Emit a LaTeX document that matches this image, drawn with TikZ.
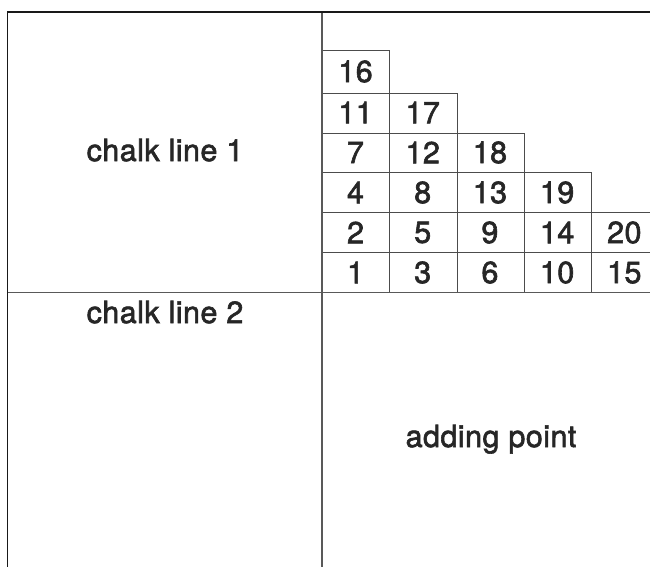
\documentclass[tikz,border=0pt]{standalone}
\usepackage{fontspec}
\newfontfamily\medfont{TeX Gyre Heros}[FakeBold=2,LetterSpace=1.5]
\begin{document}
\begin{tikzpicture}[x=1pt,y=-1pt,
  frame/.style={draw=black!90,line width=1.6pt},
  divider/.style={draw=black!65,line width=1.4pt},
  gridline/.style={draw=black!70,line width=1pt},
  label/.style={font=\fontsize{30.5}{36}\medfont,text=black!85,inner sep=0pt},
  num/.style={font=\fontsize{30.5}{36}\medfont,text=black!85,inner sep=0pt,anchor=center}]
\useasboundingbox (0,0) rectangle (650,566);
\clip (0,0) rectangle (650,566);
% corners / coordinates
\coordinate (tl) at (7.5,12);
\coordinate (tr) at (660,12);
\coordinate (bl) at (7.5,580);
\coordinate (dt) at (322,12);
\coordinate (db) at (322,580);
\coordinate (ml) at (7.5,292.5);
\coordinate (mr) at (660,292.5);
% grid staircase
\draw[gridline] (322,50) -- (389,50) -- (389,292.5);
\draw[gridline] (322,93) -- (457,93) -- (457,292.5);
\draw[gridline] (322,133) -- (524,133) -- (524,292.5);
\draw[gridline] (322,172.5) -- (591,172.5) -- (591,292.5);
\draw[gridline] (322,212) -- (660,212);
\draw[gridline] (322,252) -- (660,252);
% frame
\draw[divider] (dt) -- (db);
\draw[divider] (ml) -- (mr);
\draw[frame] (bl) -- (tl) -- (tr);
% numbers
\foreach \n/\c/\r in {16/0/0,
  11/0/1, 17/1/1,
  7/0/2, 12/1/2, 18/2/2,
  4/0/3, 8/1/3, 13/2/3, 19/3/3,
  2/0/4, 5/1/4, 9/2/4, 14/3/4, 20/4/4,
  1/0/5, 3/1/5, 6/2/5, 10/3/5, 15/4/5} {
  \pgfmathsetmacro{\xx}{355.5+67.2*\c}
  \pgfmathsetmacro{\yy}{\r==0 ? 71.5 : 93+40*(\r-1)+19.5}
  \node[num] (n\n) at (\xx,\yy) {\n};
}
% labels
\node[label,anchor=base] (cl1) at (165,161) {chalk line 1};
\node[label,anchor=base] (cl2) at (165,323) {chalk line 2};
\node[label,anchor=base] (ap) at (491,447) {adding point};
\end{tikzpicture}
\end{document}
